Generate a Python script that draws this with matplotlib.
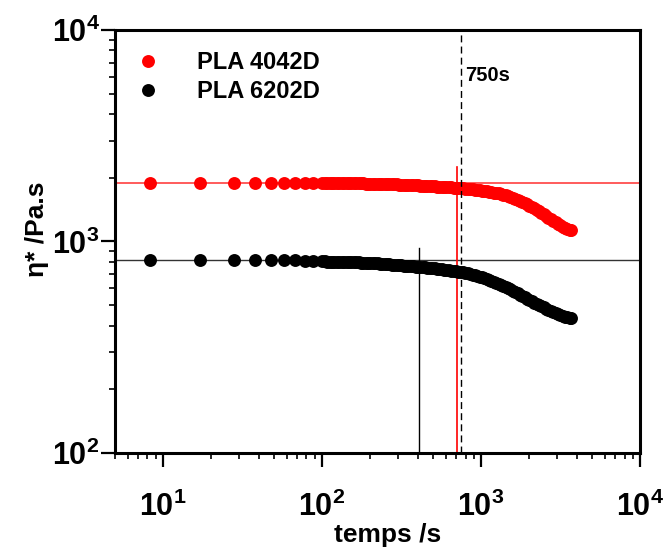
import matplotlib
matplotlib.use('Agg')
import matplotlib.pyplot as plt
from matplotlib.ticker import FixedLocator, FixedFormatter, LogLocator, NullFormatter

plt.rcParams['font.family'] = 'Liberation Sans'
plt.rcParams['font.weight'] = 'bold'
plt.rcParams['mathtext.fontset'] = 'custom'
plt.rcParams['mathtext.bf'] = 'Liberation Sans:bold'
plt.rcParams['mathtext.rm'] = 'Liberation Sans:bold'

# time sweep data
temps = [8.3, 17, 28, 38, 48, 58, 68, 78, 88,
         100, 104, 108, 112, 116, 120, 124, 128, 133, 138, 143, 148, 153, 158,
         164, 170, 176, 182, 188, 195, 202, 209, 216, 224, 232, 240, 248, 257,
         266, 275, 285, 295, 305, 316, 327, 338, 350, 362, 375, 388, 402, 416,
         430, 445, 461, 477, 494, 511, 529, 547, 566, 586, 607, 628, 650, 673,
         696, 720, 745, 771, 798, 826, 855, 885, 916, 948, 981, 1015, 1050, 1087,
         1125, 1164, 1205, 1247, 1291, 1336, 1383, 1431, 1481, 1533, 1587, 1642,
         1700, 1759, 1821, 1885, 1951, 2019, 2090, 2163, 2238, 2317, 2398, 2482,
         2569, 2659, 2752, 2848, 2948, 3051, 3158, 3268, 3383, 3500, 3620, 3700]
eta_4042 = [1900, 1900, 1900, 1900, 1899, 1898, 1896, 1894, 1892,
            1890, 1890, 1889, 1889, 1888, 1888, 1887, 1887, 1886, 1886, 1885, 1885, 1884, 1884,
            1883, 1882, 1882, 1881, 1880, 1880, 1879, 1878, 1877, 1876, 1874, 1873, 1871, 1869,
            1867, 1865, 1863, 1861, 1859, 1857, 1855, 1853, 1851, 1848, 1846, 1843, 1840, 1837,
            1835, 1832, 1829, 1826, 1823, 1820, 1817, 1815, 1812, 1809, 1806, 1803, 1800, 1797,
            1794, 1791, 1788, 1784, 1780, 1776, 1771, 1766, 1760, 1754, 1747, 1740, 1733, 1726,
            1719, 1712, 1704, 1696, 1687, 1677, 1666, 1654, 1641, 1627, 1612, 1596,
            1579, 1561, 1542, 1522, 1501, 1479, 1456, 1433, 1410, 1387, 1364, 1342,
            1320, 1298, 1277, 1256, 1235, 1214, 1193, 1175, 1160, 1148, 1137, 1130]
eta_6202 = [820, 820, 820, 819, 818, 816, 814, 811, 808,
            805, 805, 804, 804, 803, 803, 802, 802, 801, 800, 800, 799, 798, 798,
            797, 796, 795, 794, 793, 792, 790, 789, 788, 787, 785, 784, 782, 781,
            779, 778, 776, 774, 772, 771, 769, 767, 765, 764, 762, 761, 760, 758,
            757, 755, 753, 751, 749, 747, 745, 742, 740, 737, 735, 732, 729, 726,
            724, 721, 718, 714, 710, 706, 701, 697, 692, 687, 682, 677, 671, 665,
            659, 653, 646, 639, 632, 625, 617, 610, 602, 594, 586, 578,
            569, 561, 553, 545, 537, 529, 521, 514, 507, 500, 494, 488,
            482, 476, 470, 464, 459, 454, 449, 445, 441, 438, 436, 435]

h_4042 = 1900
h_6202 = 820
v_6202 = 410
v_4042 = 702
t_ref = 750

fig = plt.figure(figsize=(6.67, 5.53), dpi=100)
ax = fig.add_axes([0.1724, 0.1808, 0.7871, 0.7650])

ax.axhline(h_4042, color='#ff4040', lw=1.2, zorder=1)
ax.axhline(h_6202, color='#333333', lw=1.0, zorder=1)
ax.plot([v_6202, v_6202], [100, 935], color='black', lw=1.0, zorder=1)
ax.plot([v_4042, v_4042], [100, 2250], color='red', lw=1.2, zorder=1)
ax.axvline(t_ref, color='black', lw=1.0, ls=(0, (5, 3)), zorder=3)

ax.plot(temps, eta_4042, 'o', color='red', ms=9.3, mec='none', label='PLA 4042D', zorder=2)
ax.plot(temps, eta_6202, 'o', color='black', ms=9.3, mec='none', label='PLA 6202D', zorder=2)

ax.text(800, 6100, '750s', fontsize=14.5, fontweight='bold', ha='left', va='center')

ax.set_xscale('log')
ax.set_yscale('log')
ax.set_xlim(5, 1e4)
ax.set_ylim(1e2, 1e4)

xt = [10, 100, 1000, 10000]
yt = [100, 1000, 10000]
ax.xaxis.set_major_locator(FixedLocator(xt))
ax.xaxis.set_major_formatter(FixedFormatter([r'$\mathbf{10^{1}}$', r'$\mathbf{10^{2}}$',
                                             r'$\mathbf{10^{3}}$', r'$\mathbf{10^{4}}$']))
ax.yaxis.set_major_locator(FixedLocator(yt))
ax.yaxis.set_major_formatter(FixedFormatter([r'$\mathbf{10^{2}}$', r'$\mathbf{10^{3}}$',
                                             r'$\mathbf{10^{4}}$']))
ax.xaxis.set_minor_locator(LogLocator(base=10, subs=range(2, 10)))
ax.yaxis.set_minor_locator(LogLocator(base=10, subs=range(2, 10)))
ax.xaxis.set_minor_formatter(NullFormatter())
ax.yaxis.set_minor_formatter(NullFormatter())

ax.tick_params(which='major', direction='out', length=10, width=1.6, labelsize=22, pad=1)
ax.tick_params(which='minor', direction='out', length=4.5, width=1.2)
ax.tick_params(axis='x', which='major', pad=18)
for s in ax.spines.values():
    s.set_linewidth(2.2)

ax.set_xlabel('temps /s', fontsize=19, fontweight='bold', labelpad=0)
ax.set_ylabel('η* /Pa.s', fontsize=19, fontweight='bold', labelpad=2)
ax.xaxis.label.set_x(0.52)
ax.yaxis.label.set_y(0.53)

ax.legend(loc='upper left', frameon=False, fontsize=17, handlelength=1.0,
          handletextpad=1.58, borderaxespad=0.5, borderpad=0.4, labelspacing=0.25)

plt.savefig('out.png', dpi=100)
